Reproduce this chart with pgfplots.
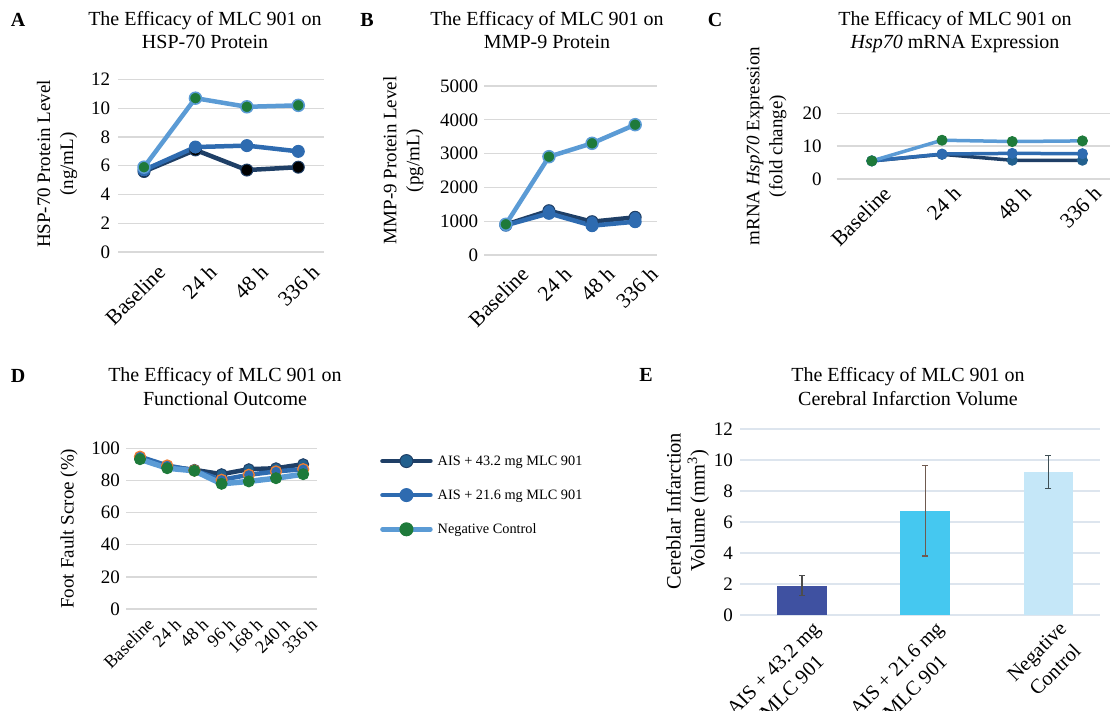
\documentclass[border=0pt]{standalone}
\usepackage{pgfplots}
\pgfplotsset{compat=1.18}
\usepackage{fontspec}
\setmainfont{Liberation Serif}

\definecolor{cLight}{HTML}{5B9BD5}
\definecolor{cMid}{HTML}{2E6BB0}
\definecolor{cDark}{HTML}{1F3F66}
\definecolor{cGreen}{HTML}{1E7A3A}
\definecolor{cTeal}{HTML}{22608E}
\definecolor{cOrange}{HTML}{ED7D31}
\definecolor{cGrid}{HTML}{D9D9D9}
\definecolor{cGridE}{HTML}{DDE5EE}
\definecolor{cBarA}{HTML}{3F51A1}
\definecolor{cBarB}{HTML}{45C8F0}
\definecolor{cBarC}{HTML}{C5E7F8}
\definecolor{cErrA}{HTML}{4D4D4D}
\definecolor{cErrB}{HTML}{6E5A50}
\definecolor{cErrC}{HTML}{3F4F55}

\newcommand\fs[2]{\fontsize{#1}{#2}\selectfont}

\pgfplotsset{
  panel/.style={
    scale only axis,
    axis line style={draw=none},
    major tick length=0pt,
    ymajorgrids,
    grid style={cGrid, line width=1.3pt},
    /pgf/number format/assume math mode=true,
    /pgf/number format/1000 sep={},
    yticklabel style={anchor=east, inner sep=0pt, font=\fs{19}{19}},
    xticklabel style={rotate=45, anchor=north east, inner sep=0pt, font=\fs{21.5}{21.5}},
    ylabel style={font=\fs{19}{23}, align=center, anchor=center},
    clip=false,
  },
  ln/.style={line width=4.5pt, mark=*, mark size=6pt, line join=round, line cap=round},
}

\begin{document}
\begin{tikzpicture}
\path[use as bounding box] (0pt,0pt) rectangle (1110pt,711pt);

% ---------- Panel letters and titles ----------
\node[anchor=base, font=\fs{20}{20}\bfseries] at (18pt,684pt) {A};
\node[anchor=base, font=\fs{20}{20}\bfseries] at (367pt,684pt) {B};
\node[anchor=base, font=\fs{20}{20}\bfseries] at (715pt,684pt) {C};
\node[anchor=base, font=\fs{20}{20}\bfseries] at (18pt,328pt) {D};
\node[anchor=base, font=\fs{20}{20}\bfseries] at (646pt,329pt) {E};

\node[anchor=base, font=\fs{20}{20}] at (205pt,685pt) {The Efficacy of MLC 901 on};
\node[anchor=base, font=\fs{20}{20}] at (205pt,662pt) {HSP-70 Protein};
\node[anchor=base, font=\fs{20}{20}] at (547pt,685pt) {The Efficacy of MLC 901 on};
\node[anchor=base, font=\fs{20}{20}] at (547pt,662pt) {MMP-9 Protein};
\node[anchor=base, font=\fs{20}{20}] at (955pt,685pt) {The Efficacy of MLC 901 on};
\node[anchor=base, font=\fs{20}{20}] at (955pt,662pt) {\textit{Hsp70} mRNA Expression};
\node[anchor=base, font=\fs{20}{20}] at (225pt,329pt) {The Efficacy of MLC 901 on};
\node[anchor=base, font=\fs{20}{20}] at (225pt,305pt) {Functional Outcome};
\node[anchor=base, font=\fs{20}{20}] at (908pt,329pt) {The Efficacy of MLC 901 on};
\node[anchor=base, font=\fs{20}{20}] at (908pt,305pt) {Cerebral Infarction Volume};

% ---------- Panel A ----------
\begin{axis}[panel, at={(118.3pt,459pt)}, anchor=south west, width=205.7pt, height=172.5pt,
  xmin=-0.5, xmax=3.5, ymin=0, ymax=12, ytick={0,2,...,12}, xtick={0,1,2,3},
  xticklabels={Baseline,24 h,48 h,336 h},
  yticklabel style={xshift=-8pt}, xticklabel style={yshift=-16.2pt, xshift=0.8pt},
  ylabel={HSP-70 Protein Level\\(ng/mL)},
  ylabel style={at={(axis description cs:-0.298,0.51)}}]
\addplot[ln, color=cDark, mark options={fill=black, draw=cDark, line width=1pt}] coordinates {(0,5.6)(1,7.1)(2,5.7)(3,5.9)};
\addplot[ln, color=cMid, mark options={fill=cMid, draw=cMid, line width=1pt}] coordinates {(0,5.7)(1,7.3)(2,7.4)(3,7.0)};
\addplot[ln, color=cLight, mark options={fill=cGreen, draw=cLight, line width=1.5pt}] coordinates {(0,5.9)(1,10.7)(2,10.1)(3,10.2)};
\end{axis}

% ---------- Panel B ----------
\begin{axis}[panel, at={(484.3pt,456pt)}, anchor=south west, width=172.4pt, height=169pt,
  xmin=-0.5, xmax=3.5, ymin=0, ymax=5000, ytick={0,1000,...,5000}, xtick={0,1,2,3},
  xticklabels={Baseline,24 h,48 h,336 h},
  yticklabel style={xshift=-6pt}, xticklabel style={yshift=-16.5pt, xshift=2.5pt},
  ylabel={MMP-9 Protein Level\\(pg/mL)},
  ylabel style={at={(axis description cs:-0.469,0.56)}}]
\addplot[ln, color=cDark, mark options={fill=cMid, draw=cDark, line width=1pt}] coordinates {(0,900)(1,1310)(2,985)(3,1115)};
\addplot[ln, color=cMid, mark options={fill=cMid, draw=cMid, line width=1pt}] coordinates {(0,880)(1,1233)(2,867)(3,985)};
\addplot[ln, color=cLight, mark options={fill=cGreen, draw=cLight, line width=1.5pt}] coordinates {(0,908)(1,2908)(2,3304)(3,3855)};
\end{axis}

% ---------- Panel C ----------
\begin{axis}[panel, at={(836.7pt,532pt)}, anchor=south west, width=273.8pt, height=65.7pt,
  xmin=-0.5, xmax=3.4, ymin=0, ymax=20, ytick={0,10,20}, xtick={0,1,2,3},
  xticklabels={Baseline,24 h,48 h,336 h},
  yticklabel style={xshift=-15pt}, xticklabel style={yshift=-10.8pt, xshift=3pt},
  ylabel={mRNA \textit{Hsp70} Expression\\(fold change)},
  ylabel style={at={(axis description cs:-0.256,0.5)}}]
\addplot[ln, line width=3.5pt, mark size=5pt, color=cDark, mark options={fill=cTeal, draw=cTeal, line width=1pt}] coordinates {(0,5.5)(1,7.5)(2,5.7)(3,5.7)};
\addplot[ln, line width=3.5pt, mark size=5pt, color=cMid, mark options={fill=cMid, draw=cMid, line width=1pt}] coordinates {(0,5.5)(1,7.6)(2,7.8)(3,7.7)};
\addplot[ln, line width=3.5pt, mark size=5pt, color=cLight, mark options={fill=cGreen, draw=cGreen, line width=1pt}] coordinates {(0,5.5)(1,11.8)(2,11.4)(3,11.6)};
\end{axis}

% ---------- Panel D ----------
\begin{axis}[panel, at={(126.4pt,102pt)}, anchor=south west, width=190.4pt, height=160.7pt,
  xmin=-0.5, xmax=6.5, ymin=0, ymax=100, ytick={0,20,...,100}, xtick={0,...,6},
  xticklabels={Baseline,24 h,48 h,96 h,168 h,240 h,336 h},
  yticklabel style={xshift=-6.4pt}, xticklabel style={yshift=-9.8pt, xshift=-1pt, font=\fs{18}{18}},
  ylabel={Foot Fault Scroe (\%)},
  ylabel style={at={(axis description cs:-0.301,0.5)}},
  legend style={draw=none, fill=none, at={(axis description cs:1.332,0.7075)}, anchor=west,
    font=\fs{14.3}{14.3}, row sep=21pt, inner sep=0pt, cells={anchor=west},
    nodes={inner sep=1pt}, column sep=4pt},
  legend image code/.code={\draw[#1, mark repeat=2, mark phase=2] plot coordinates {(0pt,0pt) (24pt,0pt) (48pt,0pt)};}]
\addplot[ln, forget plot, color=cDark, mark size=5.5pt, mark options={fill=cTeal, draw=cDark, line width=1pt}] coordinates {(0,93.8)(1,88.7)(2,86.6)(3,83.9)(4,87.0)(5,87.6)(6,90.1)};
\addplot[ln, forget plot, color=cMid, mark size=5.5pt, mark options={fill=cMid, draw=cOrange, line width=1.3pt}] coordinates {(0,94.8)(1,89.3)(2,86.2)(3,80.4)(4,83.5)(5,85.6)(6,87.0)};
\addplot[ln, forget plot, line width=5.5pt, color=cLight, mark size=5.5pt, mark options={fill=cGreen, draw=cGreen, line width=1pt}] coordinates {(0,93.2)(1,87.6)(2,86.0)(3,77.9)(4,79.4)(5,81.4)(6,83.9)};
\addlegendimage{ln, line width=4.5pt, color=cDark, mark size=6.5pt, mark options={fill=cTeal, draw=cDark, line width=1pt}}
\addlegendentry{AIS + 43.2 mg MLC 901}
\addlegendimage{ln, line width=4.5pt, color=cMid, mark size=6.5pt, mark options={fill=cMid, draw=cMid, line width=1pt}}
\addlegendentry{AIS + 21.6 mg MLC 901}
\addlegendimage{ln, line width=4.5pt, color=cLight, mark size=6.5pt, mark options={fill=cGreen, draw=cGreen, line width=1pt}}
\addlegendentry{Negative Control}
\end{axis}

% ---------- Panel E ----------
\begin{axis}[panel, at={(740.4pt,96pt)}, anchor=south west, width=359.7pt, height=186pt,
  xmin=-0.5, xmax=2.42, ymin=0, ymax=12, ytick={0,2,...,12}, xtick={0,1,2},
  xticklabels={{AIS + 43.2 mg\\MLC 901},{AIS + 21.6 mg\\MLC 901},{Negative\\Control}},
  grid style={cGridE, line width=1.5pt},
  yticklabel style={xshift=-7.4pt},
  xticklabel style={align=center, font=\fs{20.5}{26}, yshift=-10.6pt, xshift=3pt},
  ylabel={Cereblar Infarction\\Volume (mm\textsuperscript{3})},
  ylabel style={font=\fs{20.5}{24}, at={(axis description cs:-0.147,0.559)}},
  ybar, bar width=49.4pt]
\addplot[fill=cBarA, draw=none, bar shift=0pt,
  error bars/.cd, y dir=both, y explicit,
  error bar style={line width=1.2pt, cErrA},
  error mark options={rotate=90, mark size=3pt, line width=1.2pt, cErrA}]
  coordinates {(0,1.9) +- (0,0.63)};
\addplot[fill=cBarB, draw=none, bar shift=0pt,
  error bars/.cd, y dir=both, y explicit,
  error bar style={line width=1.2pt, cErrB},
  error mark options={rotate=90, mark size=3pt, line width=1.2pt, cErrB}]
  coordinates {(1,6.73) +- (0,2.92)};
\addplot[fill=cBarC, draw=none, bar shift=0pt,
  error bars/.cd, y dir=both, y explicit,
  error bar style={line width=1.2pt, cErrC},
  error mark options={rotate=90, mark size=3pt, line width=1.2pt, cErrC}]
  coordinates {(2,9.21) +- (0,1.07)};
\end{axis}
\end{tikzpicture}
\end{document}
